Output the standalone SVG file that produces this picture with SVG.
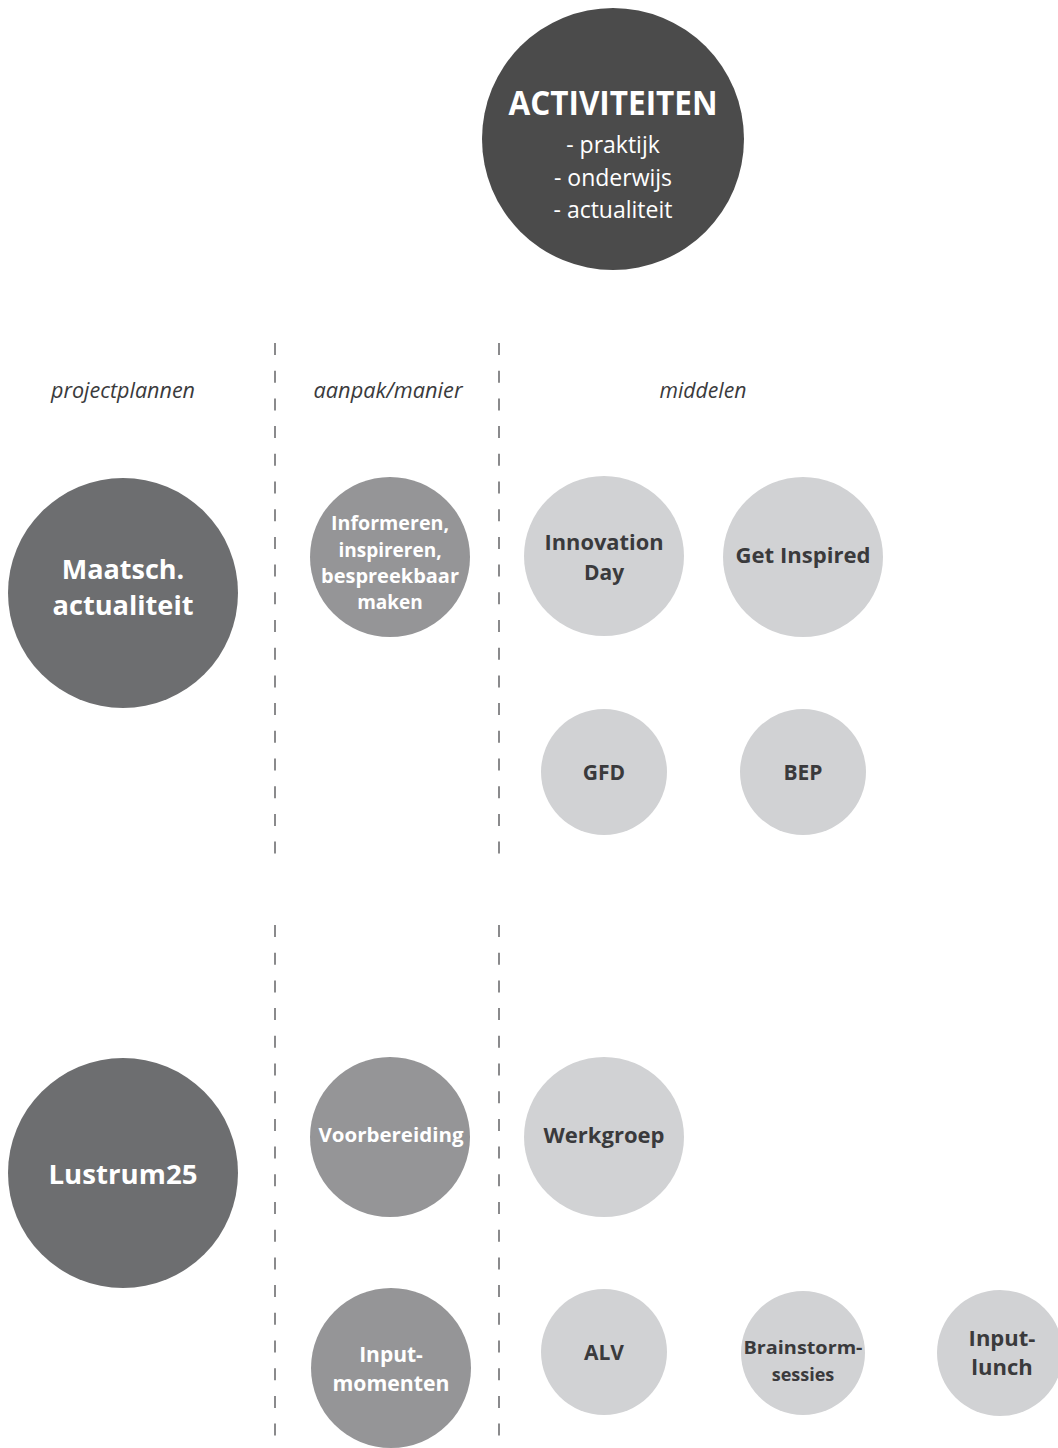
<svg xmlns="http://www.w3.org/2000/svg" width="1058" height="1448" viewBox="0 0 1058 1448">
<style>
.t{font-family:"Open Sans","Noto Sans","Liberation Sans",sans-serif;text-anchor:middle}
.b{font-weight:bold}
.w{fill:#ffffff}
.d{fill:#3a3a3c}
.h{font-style:italic;font-size:21.5px;fill:#3a3a3c}
.c0{fill:#4b4b4b}
.c1{fill:#6d6e70}
.c2{fill:#959597}
.c3{fill:#d1d2d4}
.dash{stroke:#8a8a8c;stroke-width:2;stroke-dasharray:12 15.7;fill:none}
</style>
<rect width="1058" height="1448" fill="#ffffff"/>
<g id="connectors">
<line class="dash" x1="275" y1="343" x2="275" y2="868"/>
<line class="dash" x1="499" y1="343" x2="499" y2="868"/>
<line class="dash" x1="275" y1="925" x2="275" y2="1448"/>
<line class="dash" x1="499" y1="925" x2="499" y2="1448"/>
</g>
<g id="headers">
<text class="t h" x="123" y="398" textLength="144" lengthAdjust="spacingAndGlyphs">projectplannen</text>
<text class="t h" x="388" y="398" textLength="149" lengthAdjust="spacingAndGlyphs">aanpak/manier</text>
<text class="t h" x="703" y="398" textLength="87" lengthAdjust="spacingAndGlyphs">middelen</text>
</g>
<g id="activiteiten">
<circle class="c0" cx="613" cy="139" r="131"/>
<text class="t b w" x="613" y="115" font-size="34" textLength="209" lengthAdjust="spacingAndGlyphs">ACTIVITEITEN</text>
<text class="t w" x="613" y="153" font-size="23">- praktijk</text>
<text class="t w" x="613" y="186" font-size="23">- onderwijs</text>
<text class="t w" x="613" y="218" font-size="23">- actualiteit</text>
</g>
<g id="maatsch">
<circle class="c1" cx="123" cy="593" r="115"/>
<text class="t b w" x="123" y="579" font-size="27">Maatsch.</text>
<text class="t b w" x="123" y="615" font-size="27" textLength="141" lengthAdjust="spacingAndGlyphs">actualiteit</text>
</g>
<g id="informeren">
<circle class="c2" cx="390" cy="557" r="80"/>
<text class="t b w" x="390" y="530" font-size="19" textLength="118" lengthAdjust="spacingAndGlyphs">Informeren,</text>
<text class="t b w" x="390" y="557" font-size="19">inspireren,</text>
<text class="t b w" x="390" y="583" font-size="19" textLength="138" lengthAdjust="spacingAndGlyphs">bespreekbaar</text>
<text class="t b w" x="390" y="609" font-size="19">maken</text>
</g>
<g id="innovation">
<circle class="c3" cx="604" cy="556" r="80"/>
<text class="t b d" x="604" y="550" font-size="21" textLength="119" lengthAdjust="spacingAndGlyphs">Innovation</text>
<text class="t b d" x="604" y="580" font-size="21">Day</text>
</g>
<g id="getinspired">
<circle class="c3" cx="803" cy="557" r="80"/>
<text class="t b d" x="803" y="563" font-size="21" textLength="135" lengthAdjust="spacingAndGlyphs">Get Inspired</text>
</g>
<g id="gfd">
<circle class="c3" cx="604" cy="772" r="63"/>
<text class="t b d" x="604" y="780" font-size="21">GFD</text>
</g>
<g id="bep">
<circle class="c3" cx="803" cy="772" r="63"/>
<text class="t b d" x="803" y="780" font-size="21">BEP</text>
</g>
<g id="lustrum">
<circle class="c1" cx="123" cy="1173" r="115"/>
<text class="t b w" x="123" y="1184" font-size="27" textLength="149" lengthAdjust="spacingAndGlyphs">Lustrum25</text>
</g>
<g id="voorbereiding">
<circle class="c2" cx="390" cy="1137" r="80"/>
<text class="t b w" x="391" y="1142" font-size="19" textLength="145" lengthAdjust="spacingAndGlyphs">Voorbereiding</text>
</g>
<g id="inputmomenten">
<circle class="c2" cx="391" cy="1368" r="80"/>
<text class="t b w" x="391" y="1362" font-size="21">Input-</text>
<text class="t b w" x="391" y="1391" font-size="21" textLength="117" lengthAdjust="spacingAndGlyphs">momenten</text>
</g>
<g id="werkgroep">
<circle class="c3" cx="604" cy="1137" r="80"/>
<text class="t b d" x="604" y="1143" font-size="21" textLength="121" lengthAdjust="spacingAndGlyphs">Werkgroep</text>
</g>
<g id="alv">
<circle class="c3" cx="604" cy="1352" r="63"/>
<text class="t b d" x="604" y="1360" font-size="21">ALV</text>
</g>
<g id="brainstorm">
<circle class="c3" cx="803" cy="1353" r="62"/>
<text class="t b d" x="803" y="1354" font-size="18" textLength="119" lengthAdjust="spacingAndGlyphs">Brainstorm-</text>
<text class="t b d" x="803" y="1381" font-size="18">sessies</text>
</g>
<g id="inputlunch">
<circle class="c3" cx="1000" cy="1353" r="63"/>
<text class="t b d" x="1002" y="1346" font-size="22">Input-</text>
<text class="t b d" x="1002" y="1375" font-size="22">lunch</text>
</g>
</svg>
